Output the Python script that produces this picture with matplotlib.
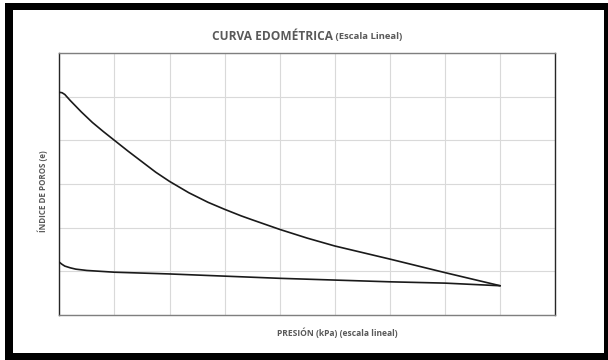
#!/usr/bin/env python

import matplotlib

matplotlib.use("Agg")
import matplotlib.pyplot as plt
from matplotlib.patches import Rectangle


# loading branch: pressure (kPa) vs void ratio
carga_p = [0, 5, 10, 15, 20, 40, 60, 80, 100, 125, 150, 175, 200, 235, 270,
           300, 330, 350, 400, 450, 500, 600, 700, 800]
carga_e = [1.010, 1.009, 1.005, 0.998, 0.991, 0.965, 0.941, 0.920, 0.900,
           0.875, 0.851, 0.827, 0.806, 0.780, 0.758, 0.742, 0.727, 0.718,
           0.696, 0.676, 0.658, 0.628, 0.597, 0.567]

# unloading branch
descarga_p = [800, 700, 600, 500, 400, 300, 200, 150, 100, 75, 50, 30, 20,
              10, 5, 0]
descarga_e = [0.567, 0.573, 0.576, 0.580, 0.584, 0.589, 0.594, 0.596,
              0.598, 0.600, 0.602, 0.605, 0.608, 0.612, 0.616, 0.621]

x_ticks = [0, 100, 200, 300, 400, 500, 600, 700, 800, 900]
y_ticks = [0.5, 0.6, 0.7, 0.8, 0.9, 1.0, 1.1]

GRIS = "#595959"


def main():
    plt.rcParams["font.family"] = ["Open Sans", "DejaVu Sans"]

    fig = plt.figure(figsize=(6.08, 3.6), dpi=100, facecolor="white")

    # black frame around the chart
    fig.patches.append(Rectangle((5 / 608, 0), 603 / 608, 357 / 360,
                                 transform=fig.transFigure,
                                 facecolor="black", edgecolor="none",
                                 zorder=-2))
    fig.patches.append(Rectangle((13 / 608, 7 / 360), 591 / 608, 343 / 360,
                                 transform=fig.transFigure,
                                 facecolor="white", edgecolor="none",
                                 zorder=-1))

    ax = fig.add_axes([59.3 / 608, 45 / 360, 496 / 608, 262 / 360])
    ax.set_zorder(2)
    ax.set_facecolor("white")

    for xs, ys in ((carga_p, carga_e), (descarga_p, descarga_e)):
        ax.plot(xs, ys, color="#1a1a1a", lw=1.2, solid_joinstyle="round",
                solid_capstyle="round", zorder=3)

    ax.set_xlim(x_ticks[0], x_ticks[-1])
    ax.set_ylim(y_ticks[0], y_ticks[-1])
    ax.set_xticks(x_ticks)
    ax.set_yticks(y_ticks)
    ax.tick_params(length=0, labelbottom=False, labelleft=False)
    ax.grid(True, color="#d9d9d9", lw=0.8)
    ax.set_axisbelow(True)

    for side in ("left", "right"):
        ax.spines[side].set_color("#262626")
        ax.spines[side].set_linewidth(1.0)
    for side in ("top", "bottom"):
        ax.spines[side].set_color("#7f7f7f")
        ax.spines[side].set_linewidth(1.0)

    # title in two sizes
    fig.text(333 / 608, 1 - 36 / 360, "CURVA EDOMÉTRICA", ha="right",
             va="center", fontsize=8.6, fontweight="bold", color=GRIS,
             zorder=3)
    fig.text(333 / 608, 1 - 36.5 / 360, " (Escala Lineal)", ha="left",
             va="center", fontsize=6.8, fontweight="bold", color=GRIS,
             zorder=3)

    fig.text(337 / 608, 1 - 333 / 360, "PRESIÓN (kPa) (escala lineal)",
             ha="center", va="center", fontsize=6.1, fontweight="bold",
             color=GRIS, zorder=3)
    fig.text(43 / 608, 1 - 191 / 360, "ÍNDICE DE POROS (e)", ha="center",
             va="center", rotation=90, fontsize=5.8, fontweight="bold",
             color=GRIS, zorder=3)

    fig.savefig("out.png", dpi=100, facecolor="white")


if __name__ == "__main__":
    main()
